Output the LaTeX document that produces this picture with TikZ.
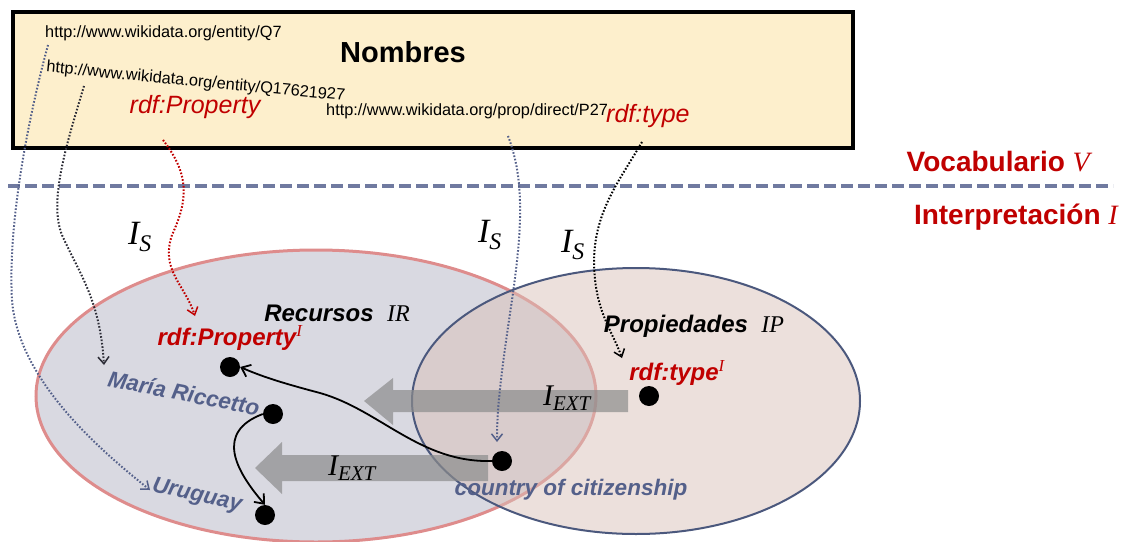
\documentclass[tikz,border=0pt]{standalone}
\usepackage{fontspec}
\setmainfont{Liberation Sans}
\newfontfamily\serifit{Liberation Serif}
\newcommand\mvar[1]{{\serifit\itshape\mdseries #1}}
\usetikzlibrary{arrows.meta}
\definecolor{boxfill}{RGB}{253,239,204}
\definecolor{dred}{RGB}{192,0,0}
\definecolor{slate}{RGB}{84,96,138}
\definecolor{dashc}{RGB}{112,122,160}
\definecolor{resfill}{RGB}{217,217,225}
\definecolor{resborder}{RGB}{222,140,140}
\definecolor{ipfill}{RGB}{217,193,185}
\definecolor{ipborder}{RGB}{75,88,125}
\definecolor{arrgray}{RGB}{140,140,140}
\definecolor{dkline}{RGB}{45,45,55}
\tikzset{
  url/.style={font=\fontsize{16.3}{19}\selectfont, inner sep=0pt, anchor=west},
  redit/.style={font=\fontsize{25}{28}\selectfont\itshape, text=dred, inner sep=0pt},
  title/.style={font=\fontsize{28}{32}\selectfont\bfseries, text=dred, inner sep=0pt},
  setlbl/.style={font=\fontsize{24}{28}\selectfont\bfseries\itshape, inner sep=0pt},
  reslbl/.style={font=\fontsize{22.5}{26}\selectfont\bfseries\itshape, text=slate, inner sep=0pt},
  islbl/.style={font=\fontsize{34}{38}\selectfont, inner sep=0pt},
  extlbl/.style={font=\fontsize{30}{32}\selectfont, inner sep=0pt},
  dot/.style={circle, fill=black, inner sep=0pt, minimum size=20pt},
  dotline/.style={line width=2pt, dash pattern=on 1.6pt off 1.8pt, -{Straight Barb[length=7pt,width=11pt,line width=1.5pt]}},
  solidarr/.style={line width=1.8pt, -{Straight Barb[length=8pt,width=13pt]}},
  fatarrow/.style={fill=arrgray, fill opacity=0.7},
}
\begin{document}
\begin{tikzpicture}[x=1pt,y=-1pt]
\useasboundingbox (0,0) rectangle (1130,541);

% Names box
\draw[line width=4pt, fill=boxfill] (13,12) rectangle (853,148);
\node[font=\fontsize{29}{33}\selectfont\bfseries, inner sep=0pt] (nombres) at (403,52) {Nombres};
\node[url] (q7) at (45,33) {http://www.wikidata.org/entity/Q7};
\node[url, rotate=-5.5, anchor=north west] (q17) at (47,60) {http://www.wikidata.org/entity/Q17621927};
\node[redit] (rprop) at (195,107) {rdf:Property};
\node[url] (p27) at (326,111) {http://www.wikidata.org/prop/direct/P27};
\node[redit, anchor=west] (rtype) at (606,116) {rdf:type};

% separator
\draw[dashc, line width=4pt, dash pattern=on 12pt off 5pt] (8,186) -- (1113,186);
\node[title, anchor=east] (vocab) at (1090,162) {Vocabulario \mvar{V}};
\node[title, anchor=east] (interp) at (1118,217) {Interpretación \mvar{I}};

% sets
\draw[resborder, line width=3pt, fill=resfill] (316,396) ellipse [x radius=280pt, y radius=146pt];
\fill[ipfill, fill opacity=0.5] (636,401) ellipse [x radius=224pt, y radius=133pt];
\draw[ipborder, line width=2pt] (636,401) ellipse [x radius=224pt, y radius=133pt];

% fat I_EXT arrows
\fill[fatarrow] (628,390) -- (393,390) -- (393,378) -- (364,401) -- (393,425) -- (393,412) -- (628,412) -- cycle;
\fill[fatarrow] (488,455) -- (282,455) -- (282,442) -- (255,468) -- (282,494) -- (282,481) -- (488,481) -- cycle;
\node[extlbl] (iext1) at (567,398) {\mvar{I}\textsubscript{\mvar{EXT}}};
\node[extlbl] (iext2) at (352,468) {\mvar{I}\textsubscript{\mvar{EXT}}};

% labels
\node[islbl] (is1) at (140,237) {\mvar{I}\textsubscript{\mvar{S}}};
\node[islbl] (is2) at (490,235) {\mvar{I}\textsubscript{\mvar{S}}};
\node[islbl] (is3) at (573,245) {\mvar{I}\textsubscript{\mvar{S}}};
\node[setlbl] (recursos) at (337,313) {Recursos \ \mvar{IR}};
\node[setlbl] (propied) at (694,326) {Propiedades \ \mvar{IP}};
\node[setlbl, text=dred] (propI) at (230,338) {rdf:Property\textsuperscript{\mvar{I}}};
\node[setlbl, text=dred] (typeI) at (677,373) {rdf:type\textsuperscript{\mvar{I}}};
\node[reslbl, rotate=-11] (maria) at (184,393) {María Riccetto};
\node[reslbl, rotate=-13] (urug) at (197,496) {Uruguay};
\node[reslbl] (country) at (571,490) {country of citizenship};

% dots
\node[dot] (dprop) at (230,367) {};
\node[dot] (dmaria) at (273,414) {};
\node[dot] (duru) at (265,515) {};
\node[dot] (dcountry) at (502,461) {};
\node[dot] (dtype) at (649,396) {};

% solid arrows
\draw[solidarr] (dcountry.west) .. controls (420,463) and (380,410) .. (320,393) .. controls (290,385) and (265,378) .. (dprop.east);
\draw[solidarr] (dmaria.west) .. controls (215,432) and (235,470) .. (duru.north);

% dotted interpretation arrows
\coordinate (q7s) at (48,45);
\coordinate (q7e) at (150,490);
\draw[dotline, slate] (q7s) .. controls (25,130) and (8,230) .. (12,300) .. controls (18,380) and (100,450) .. (q7e);
\coordinate (q17s) at (84,86);
\coordinate (q17e) at (104,365);
\draw[dotline, dkline] (q17s) .. controls (68,140) and (48,200) .. (62,235) .. controls (80,275) and (100,300) .. (q17e);
\coordinate (rps) at (163,140);
\coordinate (rpe) at (195,316);
\draw[dotline, dred] (rps) .. controls (190,175) and (188,200) .. (172,235) .. controls (160,270) and (185,285) .. (rpe);
\coordinate (p27s) at (508,136);
\coordinate (p27e) at (497,442);
\draw[dotline, slate] (p27s) .. controls (525,180) and (522,230) .. (512,300) .. controls (500,380) and (497,410) .. (p27e);
\coordinate (rts) at (642,142);
\coordinate (rte) at (622,358);
\draw[dotline, black] (rts) .. controls (620,180) and (595,210) .. (594,260) .. controls (594,310) and (612,330) .. (rte);
\end{tikzpicture}
\end{document}
